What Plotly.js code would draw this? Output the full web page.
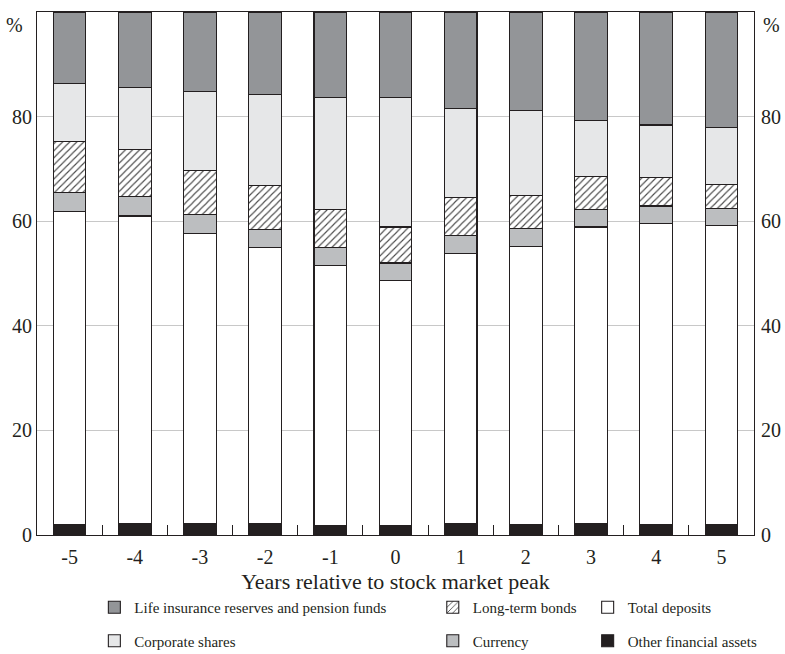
<!DOCTYPE html>
<html>
<head>
<meta charset="utf-8">
<script src="https://cdn.plot.ly/plotly-3.0.1.min.js"></script>
<style>html,body{margin:0;padding:0;background:#fff;}#chart{width:785px;height:654px;}</style>
</head>
<body>
<div id="chart"></div>
<script>
const years = ["-5","-4","-3","-2","-1","0","1","2","3","4","5"];
const otherAssets = [2.0, 2.1, 2.2, 2.2, 1.9, 1.8, 2.1, 2.0, 2.1, 2.0, 2.0];
const totalDeposits = [59.8, 58.9, 55.5, 52.8, 49.7, 46.9, 51.7, 53.2, 56.8, 57.6, 57.1];
const currency = [3.7, 3.7, 3.6, 3.4, 3.4, 3.3, 3.4, 3.4, 3.3, 3.3, 3.4];
const longTermBonds = [9.8, 9.0, 8.4, 8.5, 7.3, 6.9, 7.3, 6.4, 6.4, 5.5, 4.6];
const corporateShares = [11.0, 11.9, 15.1, 17.3, 21.3, 24.8, 17.0, 16.2, 10.7, 10.0, 10.8];
const lifeInsurance = [13.7, 14.4, 15.2, 15.8, 16.4, 16.3, 18.5, 18.8, 20.7, 21.6, 22.1];
const yTicks = [0, 20, 40, 60, 80];

const edge = {color: "#231f20", width: 1.1};
const font = "'Liberation Serif', 'Times New Roman', serif";

function bar(name, vals, fill, legend, rank, pattern) {
  const m = {color: fill, line: edge};
  if (pattern) m.pattern = pattern;
  return {type: "bar", x: years, y: vals, name: name, marker: m, width: 0.5,
          legend: legend, legendrank: rank, legendgroup: name, hoverinfo: "skip"};
}

const data = [
  bar("Other financial assets", otherAssets, "#231f20", "legend3", 2),
  bar("Total deposits", totalDeposits, "#ffffff", "legend3", 1),
  bar("Currency", currency, "#bcbec0", "legend2", 2),
  bar("Long-term bonds", longTermBonds, "#ffffff", "legend2", 1,
      {shape: "/", fgcolor: "#4a4a4a", bgcolor: "#ffffff", size: 5, solidity: 0.22}),
  bar("Corporate shares", corporateShares, "#e6e7e8", "legend", 2),
  bar("Life insurance reserves and pension funds", lifeInsurance, "#939598", "legend", 1),
  // carrier for the right-hand axis labels (no visible marks)
  {type: "scatter", mode: "markers", x: [years[0]], y: [null], yaxis: "y2",
   showlegend: false, hoverinfo: "skip"}
];

function leg(x) {
  return {x: x, y: -0.107, xanchor: "left", yanchor: "top", orientation: "v",
          font: {family: font, size: 15, color: "#231f20"}, bgcolor: "rgba(0,0,0,0)",
          tracegroupgap: 11, itemclick: false, itemdoubleclick: false};
}

const layout = {
  width: 785, height: 654,
  margin: {l: 37, r: 31, t: 12, b: 119, autoexpand: false},
  paper_bgcolor: "#ffffff", plot_bgcolor: "#ffffff",
  barmode: "stack",
  font: {family: font, color: "#231f20", size: 18},
  showlegend: true,
  legend: leg(0.08),
  legend2: leg(0.552),
  legend3: leg(0.768),
  xaxis: {
    type: "category", range: [-0.5, 10.5],
    tickson: "boundaries", ticks: "inside", ticklen: 10, tickcolor: "#231f20", tickwidth: 1,
    showline: true, linecolor: "#231f20", linewidth: 1.3, mirror: true,
    showgrid: false, ticklabelstandoff: 4,
    tickfont: {family: font, size: 20, color: "#231f20"},
    title: {text: "Years relative to stock market peak", font: {family: font, size: 22, color: "#231f20"}, standoff: 6}
  },
  yaxis: {
    range: [0, 100], tickvals: yTicks, ticktext: yTicks.map(String),
    showgrid: true, gridcolor: "#c8c8c8", gridwidth: 1, zeroline: false,
    showline: true, linecolor: "#231f20", linewidth: 1.1, mirror: true,
    ticks: "", tickfont: {family: font, size: 20, color: "#231f20"}
  },
  yaxis2: {
    overlaying: "y", side: "right", range: [0, 100], tickvals: yTicks, ticktext: yTicks.map(String),
    showgrid: false, zeroline: false, showline: false, ticks: "", ticklabelstandoff: 6,
    tickfont: {family: font, size: 20, color: "#231f20"}
  },
  annotations: [
    {text: "%", xref: "paper", yref: "paper", x: -0.031, y: 0.975, xanchor: "center", yanchor: "middle",
     showarrow: false, font: {family: font, size: 20, color: "#231f20"}},
    {text: "%", xref: "paper", yref: "paper", x: 1.024, y: 0.975, xanchor: "center", yanchor: "middle",
     showarrow: false, font: {family: font, size: 20, color: "#231f20"}}
  ]
};

Plotly.newPlot("chart", data, layout, {displayModeBar: false, staticPlot: true});
</script>
</body>
</html>
